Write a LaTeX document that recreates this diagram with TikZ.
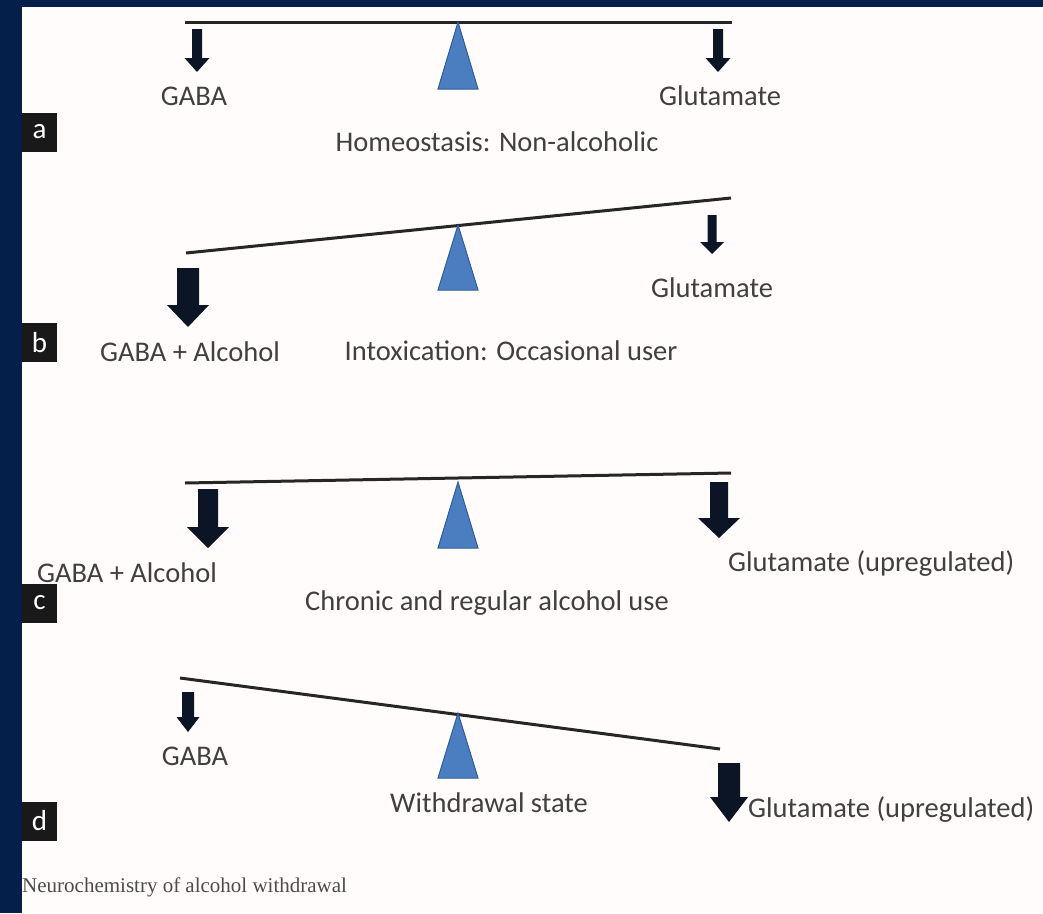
\documentclass[tikz,border=0pt]{standalone}
\usepackage{fontspec}
\setmainfont{Carlito}
\newfontfamily\capfont{Liberation Serif}
\usepackage{tikz}

\definecolor{framenavy}{HTML}{04204A}
\definecolor{paper}{HTML}{FFFCFB}
\definecolor{fulcrumblue}{HTML}{4A7EC1}
\definecolor{fulcrumedge}{HTML}{2F5D99}
\definecolor{loadblack}{HTML}{0B1526}
\definecolor{textgray}{HTML}{404040}

\tikzset{
    beam/.style={line width=3pt, draw=black!85},
    fulcrum/.style={fill=fulcrumblue, draw=fulcrumedge, line width=1pt, line join=miter},
    load/.style={fill=loadblack},
    lbl/.style={font=\fontsize{28.5}{30}\selectfont, text=textgray, inner sep=0pt, anchor=mid},
    panel/.style={fill=black!90, text=white, font=\fontsize{29}{30}\selectfont,
        minimum width=35pt, minimum height=39pt, inner sep=0pt}
}

% down arrow: x, top, head start, tip, half shaft, half head
\newcommand{\loadarrow}[6]{%
    \fill[load] (#1-#5,#2) -- (#1+#5,#2) -- (#1+#5,#3) -- (#1+#6,#3) -- (#1,#4)
        -- (#1-#6,#3) -- (#1-#5,#3) -- cycle;}

\begin{document}
\begin{tikzpicture}[x=1pt,y=-1pt]
            \useasboundingbox (0,0) rectangle (1043,913);
            \fill[framenavy] (0,0) rectangle (1043,913);
            \fill[paper] (22,7) rectangle (1043,913);

            % beams
            \draw[beam] (185,22) -- (732,22);
            \draw[beam] (186,253) -- (731,198);
            \draw[beam] (185,483) -- (731,473);
            \draw[beam] (180,678) -- (720,749);

            % fulcrums
            \foreach \top/\base in {22/89, 225/290, 482/548, 713/778}
                \filldraw[fulcrum] (458,\top) -- (478,\base) -- (438,\base) -- cycle;

            % loads
            \loadarrow{197}{29}{58}{72}{5}{12.5}
            \loadarrow{718}{29}{58}{72}{5}{12.5}
            \loadarrow{188}{268}{305}{327}{11}{21}
            \loadarrow{712}{215}{242}{254}{4.5}{12}
            \loadarrow{208}{489}{527}{548}{10}{21}
            \loadarrow{719}{482}{518}{538}{9}{21}
            \loadarrow{188}{692}{717}{732}{6}{11.5}
            \loadarrow{729}{763}{797}{822}{11}{19}

            % panel tags
            \foreach \t/\y in {a/132, b/342.5, c/603, d/821}
                \node[panel] (tag\t) at (39.5,\y) {\t};

            \node[lbl] (gabaA) at (194,103) {GABA};
            \node[lbl] (gluA) at (720,103) {Glutamate};
            \node[lbl] (stateA) at (497,149) {Homeostasis: Non-alcoholic};

            \node[lbl] (gabaB) at (190,359) {GABA + Alcohol};
            \node[lbl] (gluB) at (712,295) {Glutamate};
            \node[lbl] (stateB) at (511,358) {Intoxication: Occasional user};

            \node[lbl] (gabaC) at (127,580) {GABA + Alcohol};
            \node[lbl, anchor=mid west] (gluC) at (728,569) {Glutamate (upregulated)};
            \node[lbl] (stateC) at (487,608) {Chronic and regular alcohol use};

            \node[lbl] (gabaD) at (195,763) {GABA};
            \node[lbl] (stateD) at (489,810) {Withdrawal state};
            \node[lbl, anchor=mid west] (gluD) at (748,815) {Glutamate (upregulated)};

            \node[anchor=mid west, inner sep=0pt, text=black!70,
                font=\capfont\fontsize{21}{22}\selectfont] (caption) at (22,890)
                {Neurochemistry of alcohol withdrawal};
        \end{tikzpicture}
\end{document}
